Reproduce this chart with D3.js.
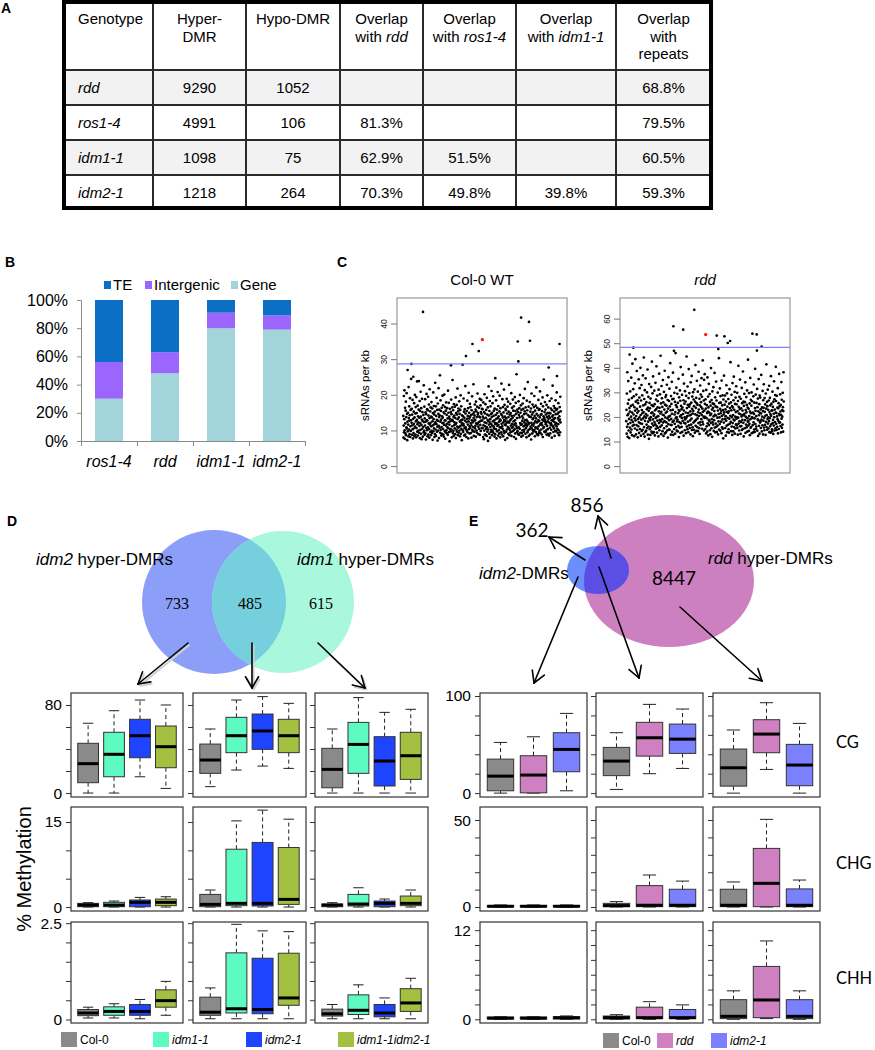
<!DOCTYPE html>
<html>
<head>
<meta charset="utf-8">
<script src="https://cdn.jsdelivr.net/npm/d3@7/dist/d3.min.js"></script>
<style>
  body { margin: 0; background: #fff; }
  svg { display: block; }
  svg text { font-family: "Liberation Sans", Arial, sans-serif; fill: #000; }
</style>
</head>
<body>
<svg id="fig" width="875" height="1050"></svg>
<script>
// ---------------- data ----------------
// A: table
const tableHeader = [["Genotype"], ["Hyper-", "DMR"], ["Hypo-DMR"], ["Overlap", "with *rdd*"],
  ["Overlap", "with *ros1-4*"], ["Overlap", "with *idm1-1*"], ["Overlap", "with", "repeats"]];
const genotypes = ["rdd", "ros1-4", "idm1-1", "idm2-1"];
const hyperDMR = [9290, 4991, 1098, 1218];
const hypoDMR = [1052, 106, 75, 264];
const overlapRdd = [null, 81.3, 62.9, 70.3];
const overlapRos14 = [null, null, 51.5, 49.8];
const overlapIdm11 = [null, null, null, 39.8];
const overlapRepeats = [68.8, 79.5, 60.5, 59.3];

// B: stacked percentages
const bCats = ["ros1-4", "rdd", "idm1-1", "idm2-1"];
const bGene = [30, 48, 80, 79];
const bIntergenic = [26, 15, 11, 10];
const bTE = [44, 37, 9, 11];

// C: sRNAs per kb (bulk cloud in two halves, then points above the line as [index, value])
const col0ValuesA = [
14.2,8.1,11.5,19.8,9.6,13.3,21.4,10.2,7.8,16.5,12.1,9.3,15.7,18.2,8.8,13.9,11.0,20.6,10.7,14.8,
7.4,12.6,17.3,9.9,15.1,11.8,8.5,22.3,13.6,10.4,16.9,12.9,9.1,14.4,19.2,8.3,11.3,15.9,10.0,13.0,
24.6,9.7,12.3,16.2,8.9,14.6,11.6,18.7,10.5,7.9,13.4,25.2,9.4,15.4,12.0,17.8,8.6,13.8,10.9,20.1,
11.2,14.9,9.0,16.7,12.7,8.2,19.5,10.8,15.0,13.1,23.9,9.8,11.9,17.1,8.7,14.1,12.4,10.1,16.0,24.0,
9.5,13.7,11.4,18.4,8.0,15.6,12.2,10.3,21.0,14.0,9.2,16.4,11.7,7.7,13.2,19.0,10.6,15.3,12.8,8.4,
17.6,11.1,14.5,9.6,22.8,12.5,10.0,16.8,8.9,13.5,11.5,18.9,9.3,15.2,12.6,7.6,14.7,10.8,20.4,13.0,
10.2,16.1,12.9,8.5,15.8,11.0,19.6,9.0,14.3,12.1,17.4,10.5,8.1,13.6,21.7,11.8,15.5,9.7,12.3,16.6,
8.8,14.0,11.3,18.1,10.0,13.8,9.4,16.3,12.7,7.5,15.0,11.6,20.8,9.9,13.3,17.0,10.7,14.6,8.3,12.0,
15.4,9.1,23.5,12.4,10.4,16.9,8.6,14.2,11.9,19.3,13.1,9.8,15.9,11.2,7.3,17.7,12.8,10.1,14.8,22.0,
11.4,8.0,13.9,16.0,10.9,14.4,25.6,9.5,12.6,18.6,10.3,15.6,13.2,8.7,11.1,16.5,9.2,14.1,12.2,19.9,
13.7,10.6,17.2,9.0,12.3,15.2,8.4,11.7,20.2,14.9,10.0,13.0,16.7,7.8,12.9,9.6,15.7,11.5,18.0,10.2,
14.5,12.0,9.3,16.4,11.0,13.5,8.9,21.3,10.8,15.1,12.5,17.9,9.7,14.0,11.8,7.1,13.4,16.2,10.5,12.7,
9.9,15.3,12.1,18.8,10.4,14.7,8.2,13.1,11.3,16.6,24.3,9.4,12.8,15.8,10.0,13.9,8.6,17.5,11.6,14.3,
12.4,10.7,16.8,9.1,13.6,11.9,19.4,8.0,15.0,12.2,10.3,17.3,9.8,14.6,11.2,21.9,13.3,8.8,15.5,10.9,
16.3,9.5,13.8,11.1,18.3,10.1,14.8,12.6,8.5,15.9,11.4,20.0,9.2,13.0,16.9,10.6,12.3,7.4,14.4,11.7,
13.2,17.8,10.2,14.1,9.7,12.0,19.1,11.5,15.4,8.7,13.7,10.8,16.1,12.9,9.0,22.6,14.9,11.0,17.0,10.4,
8.3,12.5,15.6,10.0,13.4,18.5,9.6,14.2,11.8,16.4,7.9,12.7,20.7,10.5,15.1,13.5,9.3,11.3,17.6,14.0,
10.9,16.7,12.2,9.4,14.5,11.6,8.1,15.8,13.0,19.7,10.3,17.1,12.4,9.9,14.7,11.1,23.1,13.6,8.6,15.2,
12.8,9.8,14.3,17.4,10.7,13.1,11.4,16.0,8.4,18.2,12.1,15.5,10.1,13.9,9.5,16.8,11.9,20.5,14.6,12.3,
15.0,11.2,9.1,13.3,16.5,10.6,14.0,12.6,19.0,8.9,13.8,11.7,17.2,10.0,15.3,12.9,18.7,14.8,10.8,16.2];
const col0ValuesB = [
12.9,9.4,16.1,10.8,14.0,8.3,18.0,11.6,13.5,7.7,15.3,10.1,20.3,12.4,9.0,14.9,11.3,17.5,8.9,13.7,
10.6,15.9,12.2,8.6,19.3,11.0,14.6,9.8,13.1,16.6,7.2,12.8,10.4,22.5,14.3,11.8,9.2,15.6,12.5,18.4,
8.1,13.3,11.1,16.9,9.7,14.7,12.0,10.3,21.2,13.9,8.8,15.1,11.5,17.8,10.0,12.7,19.7,9.5,14.2,11.2,
15.7,10.7,13.0,8.4,16.3,12.3,9.1,24.8,11.9,14.5,10.5,18.6,13.4,7.9,12.1,16.0,9.9,15.0,11.4,20.9,
13.6,8.7,17.0,11.7,14.1,10.2,12.6,9.3,15.5,19.9,11.0,13.2,8.2,16.4,12.9,10.9,14.8,9.6,23.3,12.0,
9.0,14.4,11.3,18.9,10.6,13.8,16.7,8.5,12.4,15.2,10.0,21.6,13.1,9.4,17.3,11.8,14.0,7.5,12.8,16.2,
11.6,15.8,9.8,13.5,12.2,19.0,10.4,14.9,8.0,16.8,12.6,11.1,18.2,9.2,13.9,15.4,10.7,22.9,12.3,8.8,
14.6,10.3,12.9,17.6,9.6,15.0,11.5,13.3,20.6,8.6,14.2,10.9,16.5,12.0,9.9,13.7,18.8,11.2,15.7,10.1,
12.7,16.9,8.3,14.3,11.8,10.5,19.5,13.0,9.3,15.6,12.1,17.9,7.8,14.8,11.4,25.9,10.8,13.6,9.7,16.0,
10.0,13.2,15.3,9.1,12.5,18.3,11.0,14.5,8.9,16.4,13.8,10.6,20.1,12.2,9.5,15.1,11.7,17.2,13.4,8.4,
15.9,11.9,9.4,14.1,12.8,10.2,17.7,8.7,13.5,16.2,11.3,19.2,9.8,14.7,12.4,10.4,15.5,21.8,11.6,13.0,
9.2,16.6,12.0,10.8,14.9,8.2,13.1,18.5,11.4,15.8,9.6,12.6,23.7,10.1,14.4,11.9,16.8,8.6,13.7,12.2,
14.0,10.5,18.1,12.9,9.0,15.4,11.2,13.9,16.3,7.6,12.3,20.5,10.7,14.6,11.7,9.3,17.4,13.3,10.2,15.2,
11.5,13.6,9.9,16.7,12.1,19.8,10.3,14.2,8.5,15.7,12.7,11.0,17.1,9.7,13.5,22.2,10.9,14.8,12.4,9.1,
16.5,12.5,10.6,14.3,8.8,13.0,18.7,11.3,15.9,9.4,12.8,10.0,16.1,13.8,21.1,11.8,9.5,14.5,12.0,17.6,
10.4,14.7,12.2,9.0,15.6,11.6,13.2,19.4,8.3,16.9,12.9,10.8,14.1,24.4,11.1,13.6,9.8,15.3,12.6,18.1,
13.1,9.6,16.0,11.9,14.6,10.1,12.4,17.3,8.9,13.9,11.4,20.0,15.0,10.5,12.7,9.2,16.6,13.4,11.0,14.2,
8.7,15.1,12.3,18.4,10.9,13.7,9.3,14.9,11.7,16.3,12.1,10.3,19.1,13.0,8.1,15.8,11.5,14.0,22.7,12.8,
14.4,11.2,9.7,13.3,17.0,10.7,15.4,12.5,8.6,16.4,13.6,11.8,10.0,18.6,14.7,9.9,12.2,15.9,11.3,20.8,
12.0,16.2,10.6,14.8,9.4,13.5,11.9,17.8,10.2,15.2,12.9,8.8,14.1,11.6,16.7,13.2,9.6,19.6,12.4,15.5];
const col0High = [[22,27.1],[41,28.8],[100,43.4],[242,28.4],[301,28.6],[318,31.0],[351,34.4],[383,32.4],
  [401,35.6],[581,35.1],[584,29.5],[598,41.8],[638,40.6],[643,35.3],[738,27.8],[780,25.4],[793,34.4]];
const col0Red = 401;
const col0Cutoff = 28.8;

const rddValuesA = [
18.5,23.1,13.4,29.7,16.2,38.4,20.9,12.1,25.6,17.3,34.8,21.5,14.7,27.2,19.4,11.6,23.8,45.6,15.9,22.4,
30.6,17.8,13.9,24.7,20.3,36.2,15.1,19.0,27.9,12.8,22.0,41.9,16.6,25.1,18.2,31.5,14.3,21.2,28.6,17.0,
12.4,24.2,19.7,33.9,15.5,22.8,43.7,18.8,26.4,13.1,20.6,29.3,16.9,38.9,23.5,14.9,21.9,27.0,11.9,19.3,
25.8,16.4,22.6,35.5,18.0,13.7,28.1,20.0,31.9,15.3,24.4,17.6,40.2,21.0,12.6,26.9,19.1,33.2,14.5,23.0,
17.4,29.0,21.7,15.0,37.1,19.6,24.9,13.3,22.2,44.4,16.1,27.5,20.4,12.2,31.1,18.6,25.3,14.1,35.9,21.4,
19.9,14.6,26.2,17.1,23.3,30.2,15.7,20.8,39.5,13.0,24.0,18.3,28.4,16.3,22.7,11.3,33.6,19.5,25.9,15.2,
23.7,18.9,12.9,27.7,20.1,16.0,32.4,21.8,14.2,25.0,42.7,17.5,22.1,29.8,13.6,19.2,36.7,24.6,16.7,20.7,
14.0,21.3,30.9,18.1,25.4,12.7,22.9,17.2,34.1,19.8,15.4,27.3,23.4,40.8,16.5,20.2,13.8,28.9,18.7,24.1,
26.6,15.8,20.5,12.3,31.3,22.5,17.7,37.8,14.8,23.9,19.0,29.4,16.2,21.6,45.1,18.4,25.7,13.2,22.3,32.8,
16.8,27.8,19.3,24.3,14.4,21.1,35.2,17.9,26.1,12.5,20.9,30.4,15.6,23.2,18.5,39.0,13.5,25.2,20.0,28.3,
21.9,13.9,29.1,18.0,24.8,16.4,33.3,22.4,14.7,19.6,27.1,11.8,23.6,17.3,36.4,20.3,15.1,26.7,18.9,31.7,
15.0,24.5,20.7,42.1,17.0,22.9,13.0,28.7,19.4,25.5,16.9,34.5,21.5,14.2,27.4,18.2,23.1,38.2,12.9,20.6,
27.6,18.7,23.7,15.3,30.0,21.2,17.4,26.3,13.4,22.2,46.2,19.7,25.0,16.1,32.1,20.1,14.6,24.2,18.4,29.6,
19.1,14.3,25.9,21.7,16.6,35.7,23.0,12.0,28.2,18.1,22.6,15.9,31.0,20.4,26.8,13.7,40.5,17.6,24.7,21.0,
23.3,16.2,19.8,29.2,14.1,24.0,18.6,37.4,21.4,15.5,27.0,12.6,22.8,33.8,17.8,25.6,20.0,14.8,30.7,19.2,
17.5,26.5,22.0,13.6,28.8,19.9,44.8,16.3,23.8,20.5,15.2,32.6,25.1,18.3,21.8,14.0,27.9,39.7,16.8,24.4,
29.9,20.8,15.7,25.3,18.8,22.5,13.1,34.3,21.1,17.1,26.0,19.5,36.9,14.9,23.5,28.5,16.0,21.6,12.4,30.3,
22.7,17.9,27.3,15.0,24.6,20.2,31.4,18.5,13.8,26.4,21.3,41.3,16.6,23.9,19.0,28.0,14.5,25.8,34.9,20.9,
16.1,25.2,19.6,30.5,14.4,22.1,17.7,38.6,23.2,20.6,15.6,27.6,13.3,24.9,18.0,33.0,21.7,16.9,29.3,26.2,
24.3,19.3,36.0,21.0,28.4,15.4,23.6,18.2,43.2,22.3,17.2,30.8,20.3,26.9,14.7,35.3,22.8,19.8,37.6,25.5];
const rddValuesB = [
20.2,15.3,27.4,18.1,23.6,13.5,31.2,19.7,16.4,25.0,21.8,14.2,36.3,17.6,22.4,28.5,12.7,24.1,19.0,33.7,
16.9,22.0,18.6,29.5,14.8,26.3,20.9,13.2,24.8,17.8,40.1,21.5,15.6,27.1,19.3,23.2,12.1,30.6,18.0,25.7,
23.9,17.1,32.3,20.4,14.5,25.4,18.9,22.6,38.1,15.9,21.1,28.2,13.9,24.5,17.5,20.8,34.6,16.2,26.9,19.6,
14.1,24.2,19.9,16.7,30.1,22.8,13.1,27.8,18.4,21.4,44.1,15.1,25.9,20.0,17.3,31.8,23.5,14.6,28.7,21.7,
26.0,18.3,22.7,13.6,35.0,20.6,16.0,24.9,19.2,29.0,15.4,23.0,11.5,27.3,21.2,17.9,37.0,22.1,14.9,25.2,
19.4,28.9,15.7,23.3,20.5,12.6,26.5,18.7,33.1,16.6,22.3,29.8,14.0,24.4,19.8,39.2,17.0,21.9,27.5,15.2,
22.5,13.8,25.6,19.5,31.5,17.4,23.8,15.0,20.7,42.5,18.2,26.1,14.4,22.9,29.2,16.3,20.1,24.6,12.9,34.0,
17.7,24.0,21.0,14.3,27.0,19.1,36.6,16.1,23.1,18.8,30.4,13.4,25.5,20.3,15.5,28.1,22.2,17.2,32.7,19.5,
25.3,16.8,20.0,30.0,15.8,22.6,13.0,26.7,19.9,41.0,17.5,24.3,21.6,14.7,28.4,18.5,23.4,35.4,16.4,21.3,
13.3,27.6,18.1,23.7,16.5,20.4,32.0,14.9,25.8,19.0,22.8,15.3,38.7,21.1,17.8,26.4,12.3,24.7,20.8,29.6,
21.5,15.6,26.2,18.9,34.3,13.7,23.0,20.2,17.1,28.3,22.1,16.0,25.1,31.0,14.2,19.7,24.0,18.3,43.5,16.7,
18.6,23.5,14.5,29.9,20.6,17.4,25.7,12.8,22.4,36.1,19.3,15.8,27.2,21.7,16.2,24.8,30.2,13.6,20.0,26.6,
24.5,19.8,16.9,22.0,13.9,28.6,18.0,33.4,21.4,15.1,26.0,19.6,14.1,23.8,39.8,17.3,22.7,29.3,15.4,20.5,
16.3,25.9,21.2,17.6,31.6,14.6,24.2,19.2,27.7,12.5,22.5,18.8,35.6,20.9,16.6,25.4,13.4,28.9,21.9,17.9,
28.1,18.4,23.3,15.7,21.6,37.3,19.1,26.8,14.3,24.1,20.3,16.8,30.8,22.6,13.1,27.0,18.7,23.9,33.5,15.9,
19.9,14.8,27.9,22.3,17.0,25.3,20.7,12.9,29.7,18.2,23.6,41.6,16.1,21.0,26.3,15.0,24.6,19.4,31.3,17.5,
23.1,20.0,15.5,26.9,18.5,32.9,14.0,22.2,19.7,28.0,16.4,24.9,21.3,13.8,36.8,20.6,17.2,25.6,22.9,14.4,
15.2,22.8,30.5,17.7,24.3,19.0,13.3,26.4,21.5,16.7,34.7,20.1,27.4,14.7,23.2,18.1,29.1,15.6,22.0,40.6,
26.7,17.4,21.8,14.9,28.8,20.4,16.2,24.0,19.3,31.9,13.5,23.7,18.6,25.8,15.3,21.4,37.7,17.8,24.5,20.9,
18.0,29.4,22.4,16.5,25.1,13.9,21.1,34.4,19.5,27.2,15.8,23.0,20.3,17.1,30.0,24.2,14.2,22.6,38.4,26.5];
const rddHigh = [[36,48.4],[239,57.1],[242,47.1],[289,55.7],[345,63.8],[403,53.7],[459,53.3],[467,47.8],
  [498,53.0],[515,50.3],[527,51.1],[640,54.1],[662,53.8],[663,47.2],[687,48.8]];
const rddRed = 403;
const rddCutoff = 48.5;

// D: Venn counts and % methylation boxes [lower whisker, Q1, median, Q3, upper whisker]
const dVenn = [733, 485, 615];
const dGroups = ["Col-0", "idm1-1", "idm2-1", "idm1-1idm2-1"];
const dCG = [
  [[0, 9.4, 26.7, 45.2, 63.4], [0, 14.8, 35.2, 55.2, 74.8], [14.8, 32.1, 52.1, 67, 84.5], [4.2, 23, 42.1, 60.9, 80]],
  [[5.8, 17.9, 30, 44.5, 58.2], [20.9, 36.7, 52.1, 68.8, 84.5], [24.5, 39.7, 56.4, 71.8, 87.6], [22.4, 36.7, 52.1, 67, 81.5]],
  [[0, 4.8, 21.5, 40.6, 58.2], [0, 17.9, 44.2, 64.2, 86.7], [0, 6.4, 29.1, 51.2, 73.3], [0, 12.4, 33.9, 55.2, 76.1]]];
const dCHG = [
  [[0, 0.06, 0.35, 0.65, 0.77], [0, 0.06, 0.35, 0.83, 1.06], [0, 0.06, 0.83, 1.24, 1.7], [0, 0.24, 0.83, 1.41, 1.82]],
  [[0, 0.06, 0.47, 2.23, 3.0], [0, 0.24, 0.65, 10.2, 15.2], [0, 0.18, 0.65, 11.4, 17.1], [0, 0.47, 1.35, 10.5, 15.5]],
  [[0, 0.06, 0.35, 0.53, 0.77], [0, 0.18, 0.53, 2.23, 3.4], [0, 0.06, 0.65, 1.06, 1.41], [0, 0.24, 0.65, 1.94, 3.0]]];
const dCHH = [
  [[0.04, 0.10, 0.17, 0.26, 0.32], [0.04, 0.11, 0.21, 0.33, 0.41], [0.02, 0.11, 0.21, 0.39, 0.52], [0.11, 0.32, 0.49, 0.77, 0.99]],
  [[0.02, 0.11, 0.19, 0.58, 0.82], [0.02, 0.17, 0.28, 1.73, 2.47], [0.02, 0.15, 0.26, 1.59, 2.3], [0.02, 0.37, 0.56, 1.72, 2.28]],
  [[0.02, 0.09, 0.15, 0.27, 0.39], [0.02, 0.13, 0.24, 0.64, 0.90], [0.02, 0.07, 0.17, 0.39, 0.56], [0.02, 0.21, 0.43, 0.80, 1.07]]];

// E
const eVenn = [362, 856, 8447];
const eGroups = ["Col-0", "rdd", "idm2-1"];
const eCG = [
  [[0, 2.4, 17.5, 35, 52.2], [0, 0.3, 18.6, 38.5, 58], [2.4, 22, 45, 62.2, 82.1]],
  [[3.8, 18, 33, 47.1, 62.2], [20, 38.1, 57, 72.9, 91.4], [25.4, 40.9, 55.6, 71.1, 86.6]],
  [[0, 7.2, 26.1, 45.4, 65], [24.4, 41.6, 60.8, 75.6, 93.1], [0, 7.6, 28.9, 50.2, 71.8]]];
const eCHG = [
  [[0, 0.1, 0.4, 0.9, 1.2], [0, 0.1, 0.4, 0.9, 1.2], [0, 0.1, 0.4, 0.9, 1.2]],
  [[0, 0.2, 0.8, 2.1, 3.1], [0, 0.2, 1.0, 12.3, 18.4], [0, 0.2, 1.0, 10.2, 14.9]],
  [[0, 0.2, 1.0, 10.2, 14.4], [0, 0.2, 13.6, 33.7, 50.4], [0, 0.2, 1.0, 10.4, 15.5]]];
const eCHH = [
  [[0, 0.05, 0.15, 0.3, 0.35], [0, 0.05, 0.15, 0.3, 0.35], [0, 0.05, 0.2, 0.35, 0.45]],
  [[0, 0.04, 0.22, 0.44, 0.62], [0, 0.09, 0.22, 1.63, 2.37], [0, 0.09, 0.22, 1.32, 1.94]],
  [[0, 0.09, 0.4, 2.64, 3.83], [0.09, 0.22, 2.6, 7.12, 10.55], [0, 0.09, 0.4, 2.64, 3.83]]];
const contexts = ["CG", "CHG", "CHH"];

// ---------------- drawing ----------------
const svg = d3.select("#fig");
const SANS = '"Liberation Sans", Arial, sans-serif';
const SERIF = '"Liberation Serif", "Times New Roman", serif';
const CALI = 'Lato, "Open Sans", sans-serif';

function parts(s) {
  return s.split("*").map((p, i) => [p, i % 2 === 1]).filter(p => p[0] !== "");
}
function rich(x, y, s, size, anchor, family) {
  const t = svg.append("text").attr("x", x).attr("y", y).attr("font-size", size)
    .attr("text-anchor", anchor || "start");
  if (family) t.style("font-family", family);
  parts(s).forEach(([p, it]) => t.append("tspan").attr("font-style", it ? "italic" : null).text(p));
  return t;
}
function panelLabel(x, y, s) {
  svg.append("text").attr("x", x).attr("y", y).attr("font-size", 14).attr("font-weight", "bold").text(s);
}
function arrow(x1, y1, x2, y2, shadow) {
  const a = Math.atan2(y2 - y1, x2 - x1), L = 13, w = Math.PI / 6;
  const segs = [[x1, y1, x2, y2],
    [x2, y2, x2 - L * Math.cos(a - w), y2 - L * Math.sin(a - w)],
    [x2, y2, x2 - L * Math.cos(a + w), y2 - L * Math.sin(a + w)]];
  if (shadow) segs.forEach(s => svg.append("line").attr("x1", s[0] + 1.5).attr("y1", s[1] + 1.8)
    .attr("x2", s[2] + 1.5).attr("y2", s[3] + 1.8).attr("stroke", "#cfcfcf").attr("stroke-width", 2));
  segs.forEach(s => svg.append("line").attr("x1", s[0]).attr("y1", s[1]).attr("x2", s[2]).attr("y2", s[3])
    .attr("stroke", "#000").attr("stroke-width", 1.6).attr("stroke-linecap", "round"));
}

// ---- A: table
panelLabel(1, 13, "A");
const colX = [64, 153, 246, 340, 423, 516, 616, 711];
const rowY = [2, 70, 105, 140, 175, 208];
const tbl = svg.append("g");
[0, 2].forEach(r => tbl.append("rect").attr("x", colX[0]).attr("y", rowY[r + 1])
  .attr("width", colX[7] - colX[0]).attr("height", rowY[r + 2] - rowY[r + 1]).attr("fill", "#f2f2f2"));
rowY.slice(1, 5).forEach(y => tbl.append("line").attr("x1", colX[0]).attr("x2", colX[7])
  .attr("y1", y).attr("y2", y).attr("stroke", "#2a2a2a").attr("stroke-width", 2));
colX.slice(1, 7).forEach(x => tbl.append("line").attr("x1", x).attr("x2", x)
  .attr("y1", rowY[0]).attr("y2", rowY[5]).attr("stroke", "#2a2a2a").attr("stroke-width", 2));
tbl.append("rect").attr("x", colX[0]).attr("y", rowY[0]).attr("width", colX[7] - colX[0])
  .attr("height", rowY[5] - rowY[0]).attr("fill", "none").attr("stroke", "#000").attr("stroke-width", 4);

tableHeader.forEach((lines, c) => {
  const cx = c === 0 ? colX[0] + 14 : (colX[c] + colX[c + 1]) / 2;
  lines.forEach((ln, k) => rich(cx, 24 + k * 17.5, ln, 15, c === 0 ? "start" : "middle"));
});
const pct = v => v == null ? "" : v.toFixed(1) + "%";
const tableCols = [genotypes.map(g => "*" + g + "*"), hyperDMR.map(String), hypoDMR.map(String),
  overlapRdd.map(pct), overlapRos14.map(pct), overlapIdm11.map(pct), overlapRepeats.map(pct)];
tableCols.forEach((col, c) => {
  const cx = c === 0 ? colX[0] + 14 : (colX[c] + colX[c + 1]) / 2;
  col.forEach((s, r) => { if (s) rich(cx, 93 + r * 35, s, 15, c === 0 ? "start" : "middle"); });
});

// ---- B: stacked bars
panelLabel(5, 267, "B");
const bColors = { gene: "#a1d5d9", intergenic: "#9a66fe", te: "#0b6fc6" };
const bRows = bCats.map((c, i) => ({ cat: c, gene: bGene[i], intergenic: bIntergenic[i], te: bTE[i] }));
const bSeries = d3.stack().keys(["gene", "intergenic", "te"])(bRows);
const bx = d3.scaleBand().domain(bCats).range([81, 305]).paddingInner(0.5).paddingOuter(0.25);
const by = d3.scaleLinear().domain([0, 100]).range([441, 300]);
svg.append("g").selectAll("g").data(bSeries).join("g").attr("fill", d => bColors[d.key])
  .selectAll("rect").data(d => d).join("rect")
  .attr("x", d => bx(d.data.cat)).attr("width", bx.bandwidth())
  .attr("y", d => by(d[1])).attr("height", d => by(d[0]) - by(d[1]));
const bAxY = svg.append("g").attr("transform", "translate(81,0)")
  .call(d3.axisLeft(by).tickValues([0, 20, 40, 60, 80, 100]).tickFormat(d => d + "%").tickSize(4).tickPadding(9));
const bAxX = svg.append("g").attr("transform", "translate(0,441)")
  .call(d3.axisBottom(d3.scaleLinear().domain([0, 4]).range([81, 305])).ticks(4).tickSize(5).tickFormat(""));
[bAxY, bAxX].forEach(a => {
  a.selectAll("path,line").attr("stroke", "#8a8a8a");
  a.selectAll("text").attr("font-size", 16).attr("fill", "#000");
});
bCats.forEach(c => rich(bx(c) + bx.bandwidth() / 2, 467, "*" + c + "*", 16, "middle"));
[["te", "TE", 104], ["intergenic", "Intergenic", 145], ["gene", "Gene", 231]].forEach(([k, name, x]) => {
  svg.append("rect").attr("x", x).attr("y", 281).attr("width", 7).attr("height", 8).attr("fill", bColors[k]);
  svg.append("text").attr("x", x + 9).attr("y", 290).attr("font-size", 15).text(name);
});

// ---- C: scatter plots
panelLabel(337, 267, "C");
function scatter(x0, x1, y0, y1, vals, high, red, dom, ticks, cutoff, title) {
  const n = vals.length;
  const pts = vals.slice();
  high.forEach(([i, v]) => { pts[i] = v; });
  const x = d3.scaleLinear().domain([1 - 0.04 * (n - 1), n + 0.04 * (n - 1)]).range([x0, x1]);
  const y = d3.scaleLinear().domain(dom).range([y1, y0]);
  const g = svg.append("g");
  g.selectAll("circle").data(pts).join("circle")
    .attr("cx", (d, i) => x(i + 1)).attr("cy", d => y(d)).attr("r", 1.35)
    .attr("fill", (d, i) => i === red ? "#ff1a1a" : "#000");
  g.append("circle").attr("cx", x(red + 1)).attr("cy", y(pts[red])).attr("r", 1.6).attr("fill", "#ff1a1a");
  g.append("line").attr("x1", x0).attr("x2", x1).attr("y1", y(cutoff)).attr("y2", y(cutoff))
    .attr("stroke", "#7f7fff").attr("stroke-width", 1.3);
  g.append("rect").attr("x", x0).attr("y", y0).attr("width", x1 - x0).attr("height", y1 - y0)
    .attr("fill", "none").attr("stroke", "#9a9a9a").attr("stroke-width", 1.2);
  ticks.forEach(t => {
    g.append("line").attr("x1", x0 - 6).attr("x2", x0).attr("y1", y(t)).attr("y2", y(t)).attr("stroke", "#777");
    g.append("text").attr("transform", `translate(${x0 - 10},${y(t)}) rotate(-90)`)
      .attr("text-anchor", "middle").attr("font-size", 8.5).style("fill", "#222").text(t);
  });
  g.append("text").attr("transform", `translate(${x0 - 28},${(y0 + y1) / 2}) rotate(-90)`)
    .attr("text-anchor", "middle").attr("font-size", 11.5).text("sRNAs per kb");
  rich((x0 + x1) / 2, 285, title, 15, "middle");
}
scatter(397, 567, 298, 473, col0ValuesA.concat(col0ValuesB), col0High, col0Red, [-1.8, 47.3],
  [0, 10, 20, 30, 40], col0Cutoff, "Col-0 WT");
scatter(620, 790, 298, 473, rddValuesA.concat(rddValuesB), rddHigh, rddRed, [-2.6, 68.6],
  [0, 10, 20, 30, 40, 50, 60], rddCutoff, "*rdd*");

// ---- D: venn
panelLabel(7, 526, "D");
const defs = svg.append("defs");
defs.append("clipPath").attr("id", "clipD").append("circle").attr("cx", 214).attr("cy", 602).attr("r", 72);
svg.append("circle").attr("cx", 214).attr("cy", 602).attr("r", 72).attr("fill", "#8c9ff8");
svg.append("circle").attr("cx", 283).attr("cy", 602).attr("r", 71).attr("fill", "#a9f8de");
svg.append("circle").attr("cx", 283).attr("cy", 602).attr("r", 71).attr("fill", "#75cfdc").attr("clip-path", "url(#clipD)");
rich(36, 565, "*idm2* hyper-DMRs", 17, "start");
rich(297, 565, "*idm1* hyper-DMRs", 17, "start");
[177, 250, 321].forEach((x, i) => svg.append("text").attr("x", x).attr("y", 609).attr("text-anchor", "middle")
  .attr("font-size", 16).style("font-family", SERIF).text(dVenn[i]));
arrow(188, 643, 138, 684, true);
arrow(252, 643, 252, 688, true);
arrow(318, 643, 365, 688, true);

// ---- E: venn
panelLabel(469, 526, "E");
defs.append("clipPath").attr("id", "clipE").append("ellipse").attr("cx", 669).attr("cy", 581).attr("rx", 85).attr("ry", 66);
svg.append("ellipse").attr("cx", 669).attr("cy", 581).attr("rx", 85).attr("ry", 66).attr("fill", "#cd80c0");
svg.append("ellipse").attr("cx", 598).attr("cy", 570).attr("rx", 31).attr("ry", 24).attr("fill", "#6b8efa");
svg.append("ellipse").attr("cx", 598).attr("cy", 570).attr("rx", 31).attr("ry", 24).attr("fill", "#5b4fe3").attr("clip-path", "url(#clipE)");
rich(708, 564, "*rdd* hyper-DMRs", 17, "start");
rich(479, 579, "*idm2*-DMRs", 17, "start");
[[532, 537], [587, 512], [674, 585]].forEach(([x, y], i) => svg.append("text").attr("x", x).attr("y", y)
  .attr("text-anchor", "middle").attr("font-size", 19).style("font-family", CALI).text(eVenn[i]));
arrow(585, 560, 549, 537, false);
arrow(611, 558, 598, 516, false);
arrow(578, 577, 534, 683, false);
arrow(599, 567, 639, 678, false);
arrow(680, 607, 762, 681, false);

// ---- box plots
function boxPanel(x0, x1, y0, y1, dom, ticks, labelled, stats, colors, showLabels) {
  const n = stats.length;
  const x = d3.scaleLinear().domain([0.5 - 0.04 * n, n + 0.5 + 0.04 * n]).range([x0, x1]);
  const y = d3.scaleLinear().domain(dom).range([y1, y0]);
  const bw = 0.8 * (x(1) - x(0));
  const g = svg.append("g");
  const ax = g.append("g").attr("transform", `translate(${x0},0)`)
    .call(d3.axisLeft(y).tickValues(ticks).tickSize(5).tickPadding(4)
      .tickFormat(d => showLabels && labelled.includes(d) ? d : ""));
  ax.select(".domain").remove();
  ax.selectAll("line").attr("stroke", "#333");
  ax.selectAll("text").attr("font-size", 15.5).attr("fill", "#000");
  stats.forEach(([lo, q1, med, q3, hi], i) => {
    const cx = x(i + 1);
    [[q3, hi], [q1, lo]].forEach(([a, b]) => g.append("line").attr("x1", cx).attr("x2", cx)
      .attr("y1", y(a)).attr("y2", y(b)).attr("stroke", "#222").attr("stroke-dasharray", "4,3"));
    [hi, lo].forEach(v => g.append("line").attr("x1", cx - bw / 4).attr("x2", cx + bw / 4)
      .attr("y1", y(v)).attr("y2", y(v)).attr("stroke", "#222"));
    g.append("rect").attr("x", cx - bw / 2).attr("width", bw).attr("y", y(q3))
      .attr("height", Math.max(0.5, y(q1) - y(q3))).attr("fill", colors[i]).attr("stroke", "#333").attr("stroke-width", 1);
    g.append("line").attr("x1", cx - bw / 2).attr("x2", cx + bw / 2).attr("y1", y(med)).attr("y2", y(med))
      .attr("stroke", "#000").attr("stroke-width", 3);
  });
  g.append("rect").attr("x", x0).attr("y", y0).attr("width", x1 - x0).attr("height", y1 - y0)
    .attr("fill", "none").attr("stroke", "#333").attr("stroke-width", 1.2);
}
const rowsY = [[693, 797], [807, 911], [922, 1023]];
const dPanelsX = [[71, 183], [193, 306], [315, 428]];
const ePanelsX = [[480, 587], [596, 703], [713, 820]];
const dColors = ["#8a8a8a", "#5dfbc1", "#1f44ff", "#a3c040"];
const eColors = ["#8a8a8a", "#ce80c0", "#7b80ff"];
const dRows = [
  { stats: dCG, dom: [-3.6, 90.9], ticks: [0, 20, 40, 60, 80], lab: [0, 80] },
  { stats: dCHG, dom: [-0.7, 17.65], ticks: [0, 5, 10, 15], lab: [0, 15] },
  { stats: dCHH, dom: [-0.09, 2.53], ticks: [0, 0.5, 1, 1.5, 2, 2.5], lab: [0, 2.5] }];
const eRows = [
  { stats: eCG, dom: [-4, 103.1], ticks: [0, 20, 40, 60, 80, 100], lab: [0, 100] },
  { stats: eCHG, dom: [-2.3, 57.5], ticks: [0, 10, 20, 30, 40, 50], lab: [0, 50] },
  { stats: eCHH, dom: [-0.5, 13.1], ticks: [0, 2, 4, 6, 8, 10, 12], lab: [0, 12] }];
dRows.forEach((r, k) => dPanelsX.forEach(([a, b], p) =>
  boxPanel(a, b, rowsY[k][0], rowsY[k][1], r.dom, r.ticks, r.lab, r.stats[p], dColors, p === 0)));
eRows.forEach((r, k) => ePanelsX.forEach(([a, b], p) =>
  boxPanel(a, b, rowsY[k][0], rowsY[k][1], r.dom, r.ticks, r.lab, r.stats[p], eColors, p === 0)));

svg.append("text").attr("transform", "translate(31,869) rotate(-90)").attr("text-anchor", "middle")
  .attr("font-size", 20).text("% Methylation");
[748, 869, 984].forEach((y, i) => svg.append("text").attr("x", 836).attr("y", y)
  .attr("font-size", 16.5).style("font-family", CALI).text(contexts[i]));

// legends
const dLegX = [61, 153, 246, 338];
dGroups.forEach((gname, i) => {
  svg.append("rect").attr("x", dLegX[i]).attr("y", 1032).attr("width", 16).attr("height", 15).attr("fill", dColors[i]);
  rich(dLegX[i] + 19, 1044, i === 0 ? gname : "*" + gname + "*", 12, "start");
});
const eLegX = [603, 657, 711];
eGroups.forEach((gname, i) => {
  svg.append("rect").attr("x", eLegX[i]).attr("y", 1033).attr("width", 16).attr("height", 15).attr("fill", eColors[i]);
  rich(eLegX[i] + 19, 1045, i === 0 ? gname : "*" + gname + "*", 12, "start");
});
</script>
</body>
</html>
